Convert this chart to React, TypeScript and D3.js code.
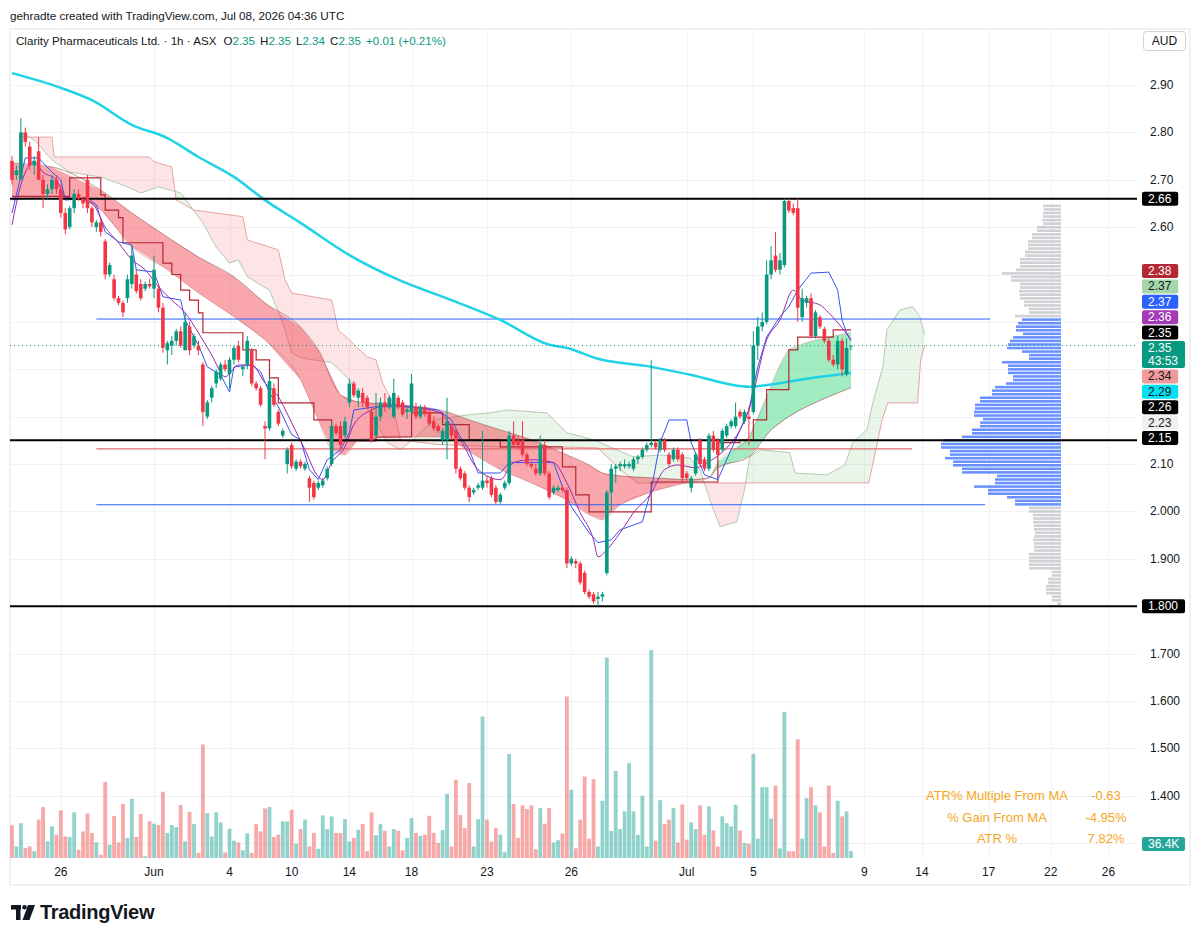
import React from "react";
import * as d3 from "d3";

const W = 1200;
const H = 939;
const FONT = "'Liberation Sans', Arial, sans-serif";

// hourly candles [open, high, low, close]
const candles = [
  [2.74,2.75,2.69,2.70],[2.71,2.73,2.70,2.72],[2.70,2.83,2.70,2.80],[2.80,2.81,2.77,2.78],[2.77,2.78,2.72,2.73],
  [2.73,2.75,2.71,2.74],[2.76,2.79,2.70,2.70],[2.70,2.71,2.64,2.67],[2.67,2.69,2.66,2.68],[2.68,2.71,2.67,2.70],
  [2.70,2.71,2.67,2.68],[2.68,2.69,2.62,2.63],[2.63,2.64,2.585,2.595],[2.60,2.645,2.595,2.64],[2.64,2.68,2.63,2.67],
  [2.67,2.68,2.655,2.66],[2.66,2.665,2.64,2.65],[2.70,2.71,2.63,2.64],[2.64,2.645,2.60,2.61],[2.60,2.615,2.59,2.61],
  [2.61,2.62,2.58,2.59],[2.57,2.575,2.49,2.50],[2.50,2.525,2.495,2.52],[2.49,2.50,2.445,2.45],[2.45,2.455,2.435,2.44],
  [2.44,2.445,2.41,2.42],[2.45,2.50,2.44,2.49],[2.48,2.56,2.47,2.54],[2.50,2.51,2.46,2.465],[2.48,2.49,2.445,2.45],
  [2.47,2.485,2.465,2.48],[2.48,2.49,2.47,2.475],[2.47,2.54,2.45,2.51],[2.47,2.48,2.42,2.43],[2.43,2.44,2.335,2.345],
  [2.34,2.36,2.31,2.355],[2.35,2.37,2.33,2.36],[2.36,2.385,2.35,2.38],[2.38,2.39,2.345,2.35],[2.34,2.42,2.34,2.40],
  [2.39,2.40,2.33,2.34],[2.35,2.375,2.345,2.37],[2.35,2.36,2.33,2.34],[2.31,2.315,2.18,2.21],[2.20,2.235,2.195,2.23],
  [2.24,2.265,2.23,2.26],[2.27,2.30,2.26,2.295],[2.28,2.315,2.275,2.31],[2.31,2.32,2.295,2.30],[2.29,2.325,2.26,2.32],
  [2.32,2.35,2.31,2.345],[2.35,2.36,2.315,2.32],[2.30,2.31,2.285,2.305],[2.31,2.37,2.30,2.36],[2.34,2.345,2.265,2.27],
  [2.27,2.275,2.255,2.26],[2.26,2.265,2.22,2.225],[2.18,2.19,2.11,2.175],[2.175,2.285,2.17,2.275],[2.26,2.27,2.22,2.225],
  [2.21,2.215,2.18,2.185],[2.16,2.175,2.155,2.17],[2.10,2.135,2.08,2.13],[2.14,2.145,2.09,2.095],[2.09,2.11,2.085,2.105],
  [2.105,2.11,2.09,2.095],[2.09,2.105,2.085,2.10],[2.07,2.075,2.02,2.05],[2.06,2.065,2.025,2.03],[2.05,2.065,2.045,2.06],
  [2.055,2.07,2.05,2.065],[2.07,2.095,2.065,2.09],[2.10,2.19,2.095,2.18],[2.18,2.185,2.16,2.165],[2.18,2.19,2.13,2.14],
  [2.16,2.20,2.155,2.19],[2.23,2.28,2.22,2.27],[2.27,2.275,2.24,2.245],[2.24,2.26,2.22,2.255],[2.25,2.26,2.22,2.23],
  [2.24,2.245,2.215,2.22],[2.21,2.22,2.145,2.15],[2.16,2.25,2.155,2.20],[2.20,2.24,2.19,2.23],[2.23,2.25,2.21,2.22],
  [2.22,2.245,2.215,2.24],[2.20,2.28,2.195,2.25],[2.24,2.245,2.215,2.22],[2.23,2.235,2.20,2.205],[2.21,2.22,2.195,2.215],
  [2.21,2.29,2.205,2.27],[2.22,2.23,2.195,2.20],[2.20,2.225,2.195,2.22],[2.22,2.225,2.20,2.205],[2.21,2.215,2.18,2.185],
  [2.19,2.20,2.17,2.175],[2.18,2.185,2.165,2.17],[2.15,2.175,2.14,2.17],[2.15,2.24,2.11,2.19],[2.18,2.185,2.15,2.16],
  [2.17,2.175,2.08,2.09],[2.09,2.095,2.065,2.07],[2.08,2.085,2.045,2.05],[2.05,2.055,2.02,2.03],[2.04,2.05,2.035,2.045],
  [2.05,2.06,2.045,2.055],[2.05,2.17,2.045,2.065],[2.065,2.075,2.05,2.06],[2.07,2.075,2.03,2.035],[2.05,2.055,2.015,2.02],
  [2.02,2.04,2.015,2.035],[2.05,2.065,2.045,2.06],[2.06,2.17,2.055,2.16],[2.16,2.19,2.135,2.14],[2.15,2.16,2.13,2.14],
  [2.15,2.19,2.115,2.12],[2.12,2.125,2.095,2.10],[2.10,2.105,2.09,2.095],[2.09,2.10,2.075,2.08],[2.08,2.16,2.075,2.14],
  [2.14,2.15,2.075,2.08],[2.08,2.085,2.025,2.03],[2.04,2.055,2.035,2.05],[2.045,2.055,2.04,2.05],[2.05,2.055,2.04,2.045],
  [2.045,2.05,1.88,1.89],[1.89,1.905,1.885,1.90],[1.895,1.90,1.88,1.89],[1.89,1.895,1.845,1.85],[1.87,1.875,1.825,1.83],
  [1.83,1.835,1.815,1.82],[1.825,1.83,1.805,1.81],[1.815,1.83,1.80,1.82],[1.82,1.83,1.81,1.825],[1.87,2.045,1.865,2.04],
  [2.04,2.10,2.00,2.09],[2.09,2.10,2.06,2.095],[2.095,2.105,2.085,2.10],[2.095,2.11,2.09,2.10],[2.095,2.105,2.09,2.10],
  [2.09,2.115,2.085,2.11],[2.11,2.12,2.10,2.115],[2.115,2.135,2.11,2.13],[2.13,2.145,2.125,2.14],[2.14,2.32,2.135,2.145],
  [2.145,2.15,2.13,2.135],[2.13,2.155,2.125,2.15],[2.15,2.155,2.125,2.13],[2.12,2.125,2.095,2.10],[2.11,2.135,2.105,2.13],
  [2.13,2.135,2.105,2.11],[2.12,2.125,2.06,2.07],[2.08,2.085,2.065,2.07],[2.05,2.075,2.04,2.07],[2.08,2.125,2.075,2.12],
  [2.15,2.155,2.095,2.10],[2.11,2.115,2.085,2.09],[2.09,2.165,2.085,2.16],[2.16,2.17,2.125,2.13],[2.15,2.155,2.115,2.12],
  [2.13,2.175,2.125,2.17],[2.16,2.185,2.155,2.18],[2.18,2.195,2.175,2.19],[2.18,2.23,2.175,2.20],[2.21,2.215,2.195,2.20],
  [2.19,2.215,2.185,2.21],[2.20,2.22,2.14,2.195],[2.21,2.38,2.205,2.35],[2.35,2.41,2.32,2.39],[2.39,2.42,2.38,2.40],
  [2.40,2.53,2.395,2.50],[2.50,2.56,2.49,2.53],[2.54,2.59,2.505,2.51],[2.51,2.545,2.50,2.53],[2.52,2.66,2.515,2.655],
  [2.655,2.66,2.63,2.635],[2.64,2.65,2.625,2.63],[2.64,2.66,2.40,2.43],[2.41,2.47,2.40,2.45],[2.44,2.455,2.43,2.45],
  [2.45,2.46,2.365,2.37],[2.37,2.425,2.365,2.42],[2.41,2.415,2.385,2.39],[2.385,2.39,2.355,2.36],[2.36,2.365,2.315,2.32],
  [2.32,2.33,2.305,2.31],[2.31,2.37,2.30,2.36],[2.36,2.365,2.285,2.30],[2.29,2.365,2.285,2.345],[2.35,2.35,2.34,2.35],
];

// volume per bar, thousands of shares
const volumes = [
  170,60,180,52,60,35,199,264,86,164,121,247,112,109,237,43,138,231,130,81,
  17,395,69,218,81,280,104,307,109,228,9,190,178,171,344,130,171,160,275,86,
  240,176,26,589,233,112,237,185,29,152,90,81,40,128,26,176,138,257,264,109,
  121,190,190,250,74,150,199,60,130,48,221,150,216,130,130,202,86,104,147,176,
  35,237,118,176,141,60,150,141,40,104,207,130,115,121,219,130,78,145,333,60,
  406,224,155,389,60,202,734,199,86,155,121,30,540,280,104,273,254,273,45,259,
  178,259,81,92,127,838,354,50,199,423,100,409,60,297,1040,140,452,150,242,492,
  242,120,323,60,1079,90,300,176,199,259,80,278,95,185,150,273,120,268,143,60,
  216,181,164,276,143,78,74,540,100,368,368,204,376,50,758,35,35,616,100,311,
  368,273,237,60,376,26,297,216,242,36.4,
];

// 200 MA (cyan) [bar, price]
const ma200 = [
  [0,2.925],[11,2.894],[18,2.868],[27,2.816],[35,2.788],[42,2.748],[50,2.706],[57,2.657],[65,2.609],
  [76,2.541],[87,2.489],[99,2.446],[110,2.404],[121,2.352],[125,2.345],[132,2.322],[144,2.305],
  [153,2.288],[166,2.263],[171,2.268],[179,2.280],[189,2.292],
];

// conversion line (blue)
const tenkan = [
  [0,2.630],[3,2.746],[6,2.746],[9,2.716],[11,2.700],[12,2.657],[17,2.662],[19,2.647],[21,2.590],[24,2.569],
  [27,2.562],[28,2.510],[32,2.505],[34,2.453],[38,2.446],[39,2.404],[41,2.368],[42,2.351],[44,2.305],[47,2.288],
  [49,2.252],[50,2.305],[54,2.309],[56,2.295],[58,2.250],[60,2.221],[63,2.162],[65,2.151],[67,2.088],[69,2.067],
  [71,2.109],[74,2.130],[76,2.166],[77,2.214],[82,2.221],[87,2.221],[92,2.219],[96,2.214],[99,2.193],[101,2.157],
  [103,2.130],[105,2.081],[110,2.081],[112,2.103],[122,2.103],[124,2.052],[126,2.010],[130,1.955],[132,1.934],
  [135,1.940],[137,1.961],[142,1.978],[144,2.046],[146,2.145],[148,2.193],[152,2.193],[153,2.145],[156,2.077],
  [159,2.067],[162,2.130],[164,2.172],[166,2.214],[168,2.305],[170,2.368],[173,2.411],[175,2.432],[177,2.467],
  [180,2.503],[184,2.505],[186,2.467],[187,2.404],[188,2.377],[189,2.360],
];

// EMA (purple)
const emaFast = [
  [0,2.605],[2,2.689],[5,2.738],[7,2.716],[10,2.700],[12,2.664],[16,2.657],[18,2.651],[21,2.600],[24,2.567],
  [27,2.531],[30,2.510],[33,2.474],[36,2.446],[39,2.419],[42,2.377],[45,2.330],[48,2.284],[51,2.309],[54,2.309],
  [57,2.271],[60,2.242],[63,2.187],[66,2.130],[69,2.073],[70,2.067],[72,2.103],[75,2.136],[77,2.183],[81,2.214],
  [85,2.225],[91,2.219],[96,2.210],[101,2.151],[105,2.088],[110,2.067],[113,2.103],[117,2.109],[122,2.103],
  [125,2.060],[128,1.997],[131,1.940],[132,1.904],[134,1.919],[137,1.955],[140,1.997],[144,2.039],[147,2.088],
  [150,2.098],[154,2.092],[157,2.105],[161,2.134],[164,2.172],[166,2.214],[170,2.362],[173,2.404],[176,2.467],
  [178,2.446],[182,2.436],[184,2.419],[187,2.387],[189,2.362],
];

// base line (dark red, stepped)
const kijun = [
  [0,2.665],[12,2.665],[13,2.704],[19,2.704],[20,2.668],[21,2.636],[24,2.62],[25,2.567],[32,2.567],[34,2.524],
  [36,2.50],[38,2.467],[40,2.446],[42,2.419],[43,2.377],[51,2.377],[52,2.341],[54,2.341],[55,2.32],[57,2.32],
  [58,2.282],[60,2.229],[66,2.229],[68,2.193],[70,2.193],[72,2.149],[81,2.149],[82,2.157],[89,2.157],[90,2.208],
  [96,2.208],[97,2.183],[101,2.183],[103,2.151],[109,2.151],[110,2.136],[123,2.136],[124,2.094],[127,2.035],
  [130,1.999],[143,1.999],[144,2.062],[158,2.062],[159,2.145],[164,2.151],[167,2.193],[170,2.257],[175,2.341],
  [177,2.368],[185,2.383],[189,2.383],
];

// MA ribbon (dark band)
const ribbonFast = [
  [0,2.657],[9,2.664],[16,2.657],[20,2.636],[27,2.558],[35,2.510],[42,2.461],[50,2.411],[57,2.362],[65,2.278],
  [69,2.193],[72,2.130],[75,2.119],[78,2.151],[87,2.157],[98,2.157],[103,2.126],[110,2.088],[117,2.060],[125,2.024],
  [130,1.993],[133,1.982],[137,2.014],[144,2.041],[150,2.056],[157,2.071],[159,2.103],[166,2.157],[170,2.242],
  [173,2.309],[175,2.341],[179,2.356],[184,2.368],[189,2.377],
];
const ribbonSlow = [
  [0,2.735],[9,2.727],[20,2.678],[27,2.630],[35,2.579],[42,2.537],[50,2.495],[57,2.440],[65,2.389],[69,2.341],
  [74,2.246],[78,2.231],[87,2.225],[98,2.210],[103,2.193],[110,2.172],[117,2.151],[125,2.119],[130,2.098],
  [133,2.081],[137,2.075],[144,2.071],[153,2.067],[157,2.071],[159,2.092],[166,2.115],[171,2.172],[175,2.200],
  [179,2.221],[184,2.242],[189,2.261],
];

// leading spans (light cloud, shifted forward)
const spanA = [
  [2,2.800],[5,2.784],[9,2.742],[13,2.716],[20,2.706],[26,2.685],[29,2.672],[33,2.685],[38,2.672],[43,2.609],
  [46,2.558],[49,2.524],[51,2.531],[53,2.495],[58,2.467],[61,2.398],[63,2.335],[65,2.324],[72,2.314],[76,2.278],
  [80,2.221],[84.5,2.145],[87.4,2.130],[90.3,2.151],[92.6,2.172],[94.8,2.193],[103,2.204],[107.7,2.208],
  [111.5,2.214],[120.5,2.208],[125,2.166],[131,2.151],[140,2.115],[146,2.119],[152.7,2.113],[155,2.088],
  [157.2,2.024],[159.5,1.968],[163.3,1.978],[165,2.046],[166.2,2.115],[168.5,2.130],[175.2,2.124],[176.4,2.081],
  [183.6,2.077],[187.6,2.098],[189.4,2.145],[192.6,2.172],[193.9,2.229],[196.2,2.305],[197.1,2.383],[200,2.425],
  [202.9,2.432],[204.5,2.411],[205.6,2.373],
];
const spanB = [
  [2,2.790],[9,2.790],[9.5,2.748],[31,2.748],[32,2.738],[36,2.727],[37,2.657],[41,2.636],[52,2.622],[53,2.573],
  [60,2.552],[61.5,2.489],[63,2.461],[72,2.446],[73.5,2.383],[76,2.362],[80,2.326],[82,2.320],[83.5,2.271],
  [85.5,2.235],[87.5,2.151],[96,2.141],[110,2.136],[123,2.136],[132,2.134],[137,2.088],[141,2.060],[193,2.060],
  [194.6,2.130],[196,2.193],[197.3,2.229],[204,2.229],[204.7,2.320],[205.6,2.351],
];

// horizontal levels
const supportLevels = [2.66, 2.15, 1.80];
const vahPrice = 2.406;
const valPrice = 2.014;
const pocPrice = 2.132;
const vpLineStart = 19;
const lastPrice = 2.35;

// visible-range volume profile, top row first
const vpTop = 2.6475;
const vpStep = 0.0075;
const vpVolume = [
  18,17,18,18,19,18,24,24,29,29,33,33,33,36,36,41,41,41,45,59,50,50,41,41,42,41,41,37,37,32,32,46,
  39,43,45,45,38,48,51,53,54,39,32,32,59,53,53,53,48,48,55,66,69,69,81,81,86,86,87,87,78,81,81,89,89,99,
  118,120,120,111,111,116,108,108,99,99,64,66,66,87,73,73,54,46,46,
  32,32,28,28,28,27,27,26,27,28,27,27,27,32,32,32,32,32,9,9,13,13,15,15,15,9,9,4,
];

// axes
const gridPrices = [1.3,1.4,1.5,1.6,1.7,1.8,1.9,2.0,2.1,2.2,2.3,2.4,2.5,2.6,2.7,2.8,2.9];
const priceTicks = [2.9, 2.8, 2.7, 2.6, 2.1, 2.0, 1.9, 1.7, 1.6, 1.5, 1.4, 1.3];
const priceTickLabels = ["2.90","2.80","2.70","2.60","2.10","2.000","1.900","1.700","1.600","1.500","1.400","1.300"];
const timeTicks = ["26","Jun","4","10","14","18","23","26","Jul","5","9","14","17","22","26"];
const timeTickBars = [11,32,49,63,76,90,107,126,152,167,192,205,220,234,247];

// stacked price tags on the right scale
const tagTexts = ["2.38","2.37","2.37","2.36","2.35","2.35|43:53","2.34","2.29","2.26","2.23","2.15"];
const tagFills = ["#b22833","#a5d6a7","#2962ff","#a23bb5","#000000","#089981","#f19a9a","#00e1f2","#000000","#f0f0f0","#000000"];
const tagInks = ["#fff","#131722","#fff","#fff","#fff","#fff","#131722","#131722","#fff","#131722","#fff"];

const statLabels = ["ATR% Multiple From MA", "% Gain From MA", "ATR %"];
const statValues = ["-0.63", "-4.95%", "7.82%"];

const UP = "#089981";
const DOWN = "#f23645";

const xScale = d3.scaleLinear().domain([0, 189]).range([12, 851]);
const yScale = d3.scaleLinear().domain([1.3, 2.9]).range([843, 85]);
const vScale = d3.scaleLinear().domain([0, 1100]).range([858, 646]);
const vpScale = d3.scaleLinear().domain([0, 120]).range([0, 120]);

const PL = 10, PR = 1137, PT = 29, PB = 858;

const line = d3.line<number[]>().x(d => xScale(d[0])).y(d => yScale(d[1]));
const smooth = d3.line<number[]>().x(d => xScale(d[0])).y(d => yScale(d[1])).curve(d3.curveMonotoneX);
const stepped = d3.line<number[]>().x(d => xScale(d[0])).y(d => yScale(d[1])).curve(d3.curveStepAfter);

function Cloud({ a, b, id, upFill, downFill }) {
  const pa = a.map(d => [xScale(d[0]), yScale(d[1])]);
  const pb = b.map(d => [xScale(d[0]), yScale(d[1])]);
  const poly = "M" + [...pa, ...pb.slice().reverse()].map(p => p.join(",")).join("L") + "Z";
  const bx0 = Math.min(pa[0][0], pb[0][0]);
  const bx1 = Math.max(pa[pa.length - 1][0], pb[pb.length - 1][0]);
  const bPath = pb.map(p => p.join(",")).join("L");
  const above = `M${bx0},${pb[0][1]}L${bPath}L${bx1},${pb[pb.length - 1][1]}L${bx1},0L${bx0},0Z`;
  const below = `M${bx0},${pb[0][1]}L${bPath}L${bx1},${pb[pb.length - 1][1]}L${bx1},${H}L${bx0},${H}Z`;
  return (
    <g>
      <defs>
        <clipPath id={id + "-up"}><path d={above} /></clipPath>
        <clipPath id={id + "-dn"}><path d={below} /></clipPath>
      </defs>
      <path d={poly} fill={upFill} clipPath={`url(#${id}-up)`} />
      <path d={poly} fill={downFill} clipPath={`url(#${id}-dn)`} />
    </g>
  );
}

function Tag({ y, text, fill, ink, h = 14 }) {
  const lines = text.split("|");
  const w = Math.max(...lines.map(t => t.length)) * 6.8 + 9;
  return (
    <g>
      <rect x={1142} y={y} width={w} height={h} rx={2} fill={fill} />
      {lines.map((t, i) => (
        <text key={i} x={1148} y={y + 11 + i * 13} fontSize={12} fill={ink}>{t}</text>
      ))}
    </g>
  );
}

const App = () => {
  const bw = 3.6;
  let tagY = 264;
  const tags = tagTexts.map((t, i) => {
    const h = t.includes("|") ? 27 : 14;
    const y = tagY;
    tagY += h + 1.4;
    return { t, y, h, fill: tagFills[i], ink: tagInks[i] };
  });

  return (
    <svg width={W} height={H} style={{ position: "absolute", left: 0, top: 0, background: "#fff" }} fontFamily={FONT}>
      <rect width={W} height={H} fill="#fff" />
      <text x={10} y={20} fontSize={11.7} fill="#131722">gehradte created with TradingView.com, Jul 08, 2026 04:36 UTC</text>
      <rect x={10} y={PT} width={1180} height={856} fill="none" stroke="#e0e3eb" />

      <defs>
        <clipPath id="plot"><rect x={PL} y={PT} width={PR - PL} height={PB - PT} /></clipPath>
      </defs>

      {/* grid */}
      <g stroke="#f0f2f6" strokeWidth={1}>
        {gridPrices.map(p => (
          <line key={p} x1={PL} x2={PR} y1={Math.round(yScale(p)) + 0.5} y2={Math.round(yScale(p)) + 0.5} />
        ))}
        {timeTickBars.map((b, i) => (
          <line key={i} x1={Math.round(xScale(b)) + 0.5} x2={Math.round(xScale(b)) + 0.5} y1={PT} y2={PB} />
        ))}
      </g>

      <g clipPath="url(#plot)">
        {/* leading cloud */}
        <Cloud a={spanA} b={spanB} id="kumo" upFill="rgba(76,175,80,0.13)" downFill="rgba(242,54,69,0.13)" />
        <path d={line(spanA)} fill="none" stroke="#b5c9b0" strokeWidth={1} />
        <path d={line(spanB)} fill="none" stroke="#eaa3a3" strokeWidth={1} />

        {/* ribbon */}
        <Cloud a={ribbonFast} b={ribbonSlow} id="ribbon" upFill="rgba(0,200,83,0.36)" downFill="rgba(242,54,69,0.44)" />
        <path d={smooth(ribbonSlow)} fill="none" stroke="rgba(150,70,70,0.55)" strokeWidth={1} />
        <path d={smooth(ribbonFast)} fill="none" stroke="rgba(170,90,90,0.35)" strokeWidth={1} />

        {/* volume */}
        {volumes.map((v, i) => {
          const c = candles[i];
          const up = c[3] >= c[0];
          return (
            <rect key={i} x={xScale(i) - 1.9} y={vScale(v)} width={3.8} height={PB - vScale(v)}
              fill={up ? "rgba(38,166,154,0.5)" : "rgba(239,83,80,0.5)"} />
          );
        })}

        {/* profile lines */}
        <line x1={xScale(vpLineStart)} x2={990} y1={yScale(vahPrice)} y2={yScale(vahPrice)} stroke="#2962ff" strokeWidth={1} />
        <line x1={xScale(vpLineStart)} x2={985} y1={yScale(valPrice)} y2={yScale(valPrice)} stroke="#2962ff" strokeWidth={1} />
        <line x1={xScale(vpLineStart)} x2={912} y1={yScale(pocPrice)} y2={yScale(pocPrice)} stroke="#e06a6a" strokeWidth={1.3} />

        {/* volume profile */}
        {vpVolume.map((v, j) => {
          const pTop = vpTop - j * vpStep;
          const y0 = yScale(pTop);
          const y1 = yScale(pTop - vpStep);
          const mid = pTop - vpStep / 2;
          const inVA = mid >= valPrice - 0.002 && mid <= vahPrice;
          return (
            <rect key={j} x={1061 - vpScale(v)} y={y0} width={vpScale(v)} height={Math.max(1, y1 - y0 - 1)}
              fill={inVA ? "rgba(41,98,255,0.7)" : "rgba(160,163,170,0.5)"} />
          );
        })}

        {/* moving averages */}
        <path d={smooth(ma200)} fill="none" stroke="#1ed3e3" strokeWidth={2.5} />
        <path d={stepped(kijun)} fill="none" stroke="#b22833" strokeWidth={1.2} />
        <path d={line(tenkan)} fill="none" stroke="#3455f0" strokeWidth={1} />
        <path d={smooth(emaFast)} fill="none" stroke="#9c27b0" strokeWidth={1} />

        {/* levels */}
        {supportLevels.map(p => (
          <line key={p} x1={PL} x2={PR + 4} y1={yScale(p)} y2={yScale(p)} stroke="#000" strokeWidth={2} />
        ))}

        {/* candles */}
        {candles.map((c, i) => {
          const [o, h, l, cl] = c;
          const up = cl >= o;
          const col = up ? UP : DOWN;
          const cx = xScale(i);
          const yt = yScale(Math.max(o, cl));
          const yb = yScale(Math.min(o, cl));
          return (
            <g key={i}>
              <line x1={cx} x2={cx} y1={yScale(h)} y2={yScale(l)} stroke={col} strokeWidth={1} />
              <rect x={cx - bw / 2} y={yt} width={bw} height={Math.max(1, yb - yt)} fill={col} />
            </g>
          );
        })}

        <line x1={PL} x2={PR} y1={yScale(lastPrice)} y2={yScale(lastPrice)} stroke={UP} strokeWidth={1} strokeDasharray="1,3" />
      </g>

      {/* title */}
      <text x={16} y={45} fontSize={11.6} fill="#131722">
        Clarity Pharmaceuticals Ltd. · 1h · ASX
        <tspan dx={7}>O</tspan><tspan fill={UP}>2.35</tspan>
        <tspan dx={5}>H</tspan><tspan fill={UP}>2.35</tspan>
        <tspan dx={5}>L</tspan><tspan fill={UP}>2.34</tspan>
        <tspan dx={5}>C</tspan><tspan fill={UP}>2.35</tspan>
        <tspan dx={5} fill={UP}>+0.01 (+0.21%)</tspan>
      </text>

      {/* currency */}
      <rect x={1143.5} y={31.5} width={42} height={19} rx={3} fill="#fff" stroke="#d1d4dc" />
      <text x={1164.5} y={45} fontSize={12} textAnchor="middle" fill="#131722">AUD</text>

      {/* price scale */}
      {priceTicks.map((p, i) => (
        <text key={i} x={1150} y={yScale(p) + 4} fontSize={12} fill="#131722">{priceTickLabels[i]}</text>
      ))}
      <Tag y={yScale(2.66) - 7} text="2.66" fill="#000" ink="#fff" />
      <Tag y={yScale(1.80) - 7} text="1.800" fill="#000" ink="#fff" />
      {tags.map((t, i) => (
        <Tag key={i} y={t.y} text={t.t} fill={t.fill} ink={t.ink} h={t.h} />
      ))}
      <Tag y={vScale(36.4) - 14} text="36.4K" fill="#26a69a" ink="#fff" />

      {/* time scale */}
      {timeTicks.map((t, i) => (
        <text key={i} x={xScale(timeTickBars[i])} y={876} fontSize={12} textAnchor="middle" fill="#131722">{t}</text>
      ))}

      {/* stats table */}
      {statLabels.map((s, i) => (
        <g key={i}>
          <text x={997} y={800 + i * 21.5} fontSize={13} textAnchor="middle" fill="#f5a623">{s}</text>
          <text x={1106} y={800 + i * 21.5} fontSize={13} textAnchor="middle" fill="#f5a623">{statValues[i]}</text>
        </g>
      ))}

      {/* logo */}
      <g fill="#131722">
        <rect x={11} y={905} width={10} height={4.5} />
        <rect x={16} y={905} width={4.5} height={15} />
        <circle cx={24.5} cy={907.3} r={2.3} />
        <path d="M28,905 L35,905 L29.5,920 L22.5,920 Z" />
        <text x={40} y={919} fontSize={20} fontWeight={700} letterSpacing={-0.3}>TradingView</text>
      </g>
    </svg>
  );
};

export default App;
